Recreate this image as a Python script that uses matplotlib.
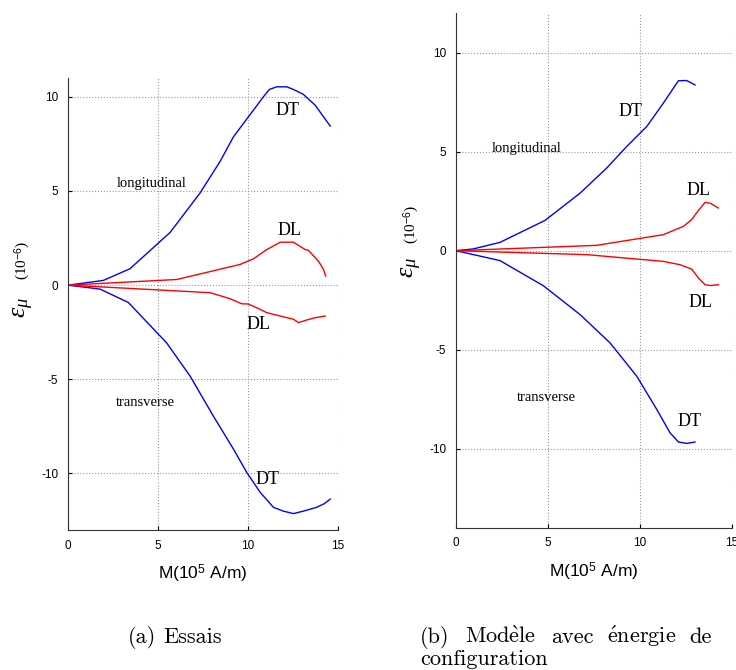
import matplotlib
matplotlib.use('Agg')
import matplotlib.pyplot as plt

plt.rcParams['font.family'] = ['Liberation Sans', 'DejaVu Sans']
plt.rcParams['axes.unicode_minus'] = False
plt.rcParams['mathtext.fontset'] = 'custom'
plt.rcParams['mathtext.rm'] = 'Liberation Sans'
plt.rcParams['mathtext.it'] = 'Liberation Serif:italic'

# (a) Essais
a_dt_up_m = [0, 1.96, 3.44, 5.67, 7.33, 8.44, 9.19, 10.02, 10.85, 11.18, 11.59, 12.15, 12.52, 13.07, 13.72, 14.56]
a_dt_up_e = [0, 0.25, 0.87, 2.8, 4.89, 6.56, 7.88, 8.94, 10.0, 10.39, 10.53, 10.53, 10.39, 10.13, 9.56, 8.45]
a_dl_up_m = [0, 6.04, 9.56, 10.3, 11.04, 11.78, 12.52, 13.17, 13.35, 13.91, 14.19, 14.31]
a_dl_up_e = [0, 0.30, 1.1, 1.4, 1.89, 2.28, 2.28, 1.89, 1.85, 1.27, 0.83, 0.48]
a_dl_lo_m = [0, 7.89, 9.0, 9.65, 10.0, 10.48, 11.04, 11.78, 12.52, 12.8, 13.26, 13.72, 14.28]
a_dl_lo_e = [0, -0.4, -0.72, -0.99, -1.0, -1.2, -1.46, -1.64, -1.81, -1.99, -1.85, -1.73, -1.64]
a_dt_lo_m = [0, 1.78, 3.35, 5.48, 6.78, 8.07, 9.19, 9.93, 10.67, 11.41, 11.96, 12.52, 13.07, 13.8, 14.24, 14.56]
a_dt_lo_e = [0, -0.21, -0.92, -3.07, -4.83, -6.95, -8.71, -9.95, -11.0, -11.8, -12.0, -12.13, -12.0, -11.8, -11.6, -11.36]

# (b) Modele avec energie de configuration
b_dt_up_m = [0, 0.94, 2.39, 4.84, 6.75, 8.2, 9.29, 10.38, 11.28, 12.1, 12.55, 13.0]
b_dt_up_e = [0, 0.09, 0.42, 1.53, 2.91, 4.18, 5.27, 6.28, 7.46, 8.59, 8.6, 8.38]
b_dl_up_m = [0, 7.65, 11.28, 12.37, 12.82, 13.19, 13.55, 13.83, 14.27]
b_dl_up_e = [0, 0.27, 0.81, 1.23, 1.57, 2.04, 2.44, 2.4, 2.16]
b_dl_lo_m = [0, 7.11, 11.28, 12.19, 12.82, 13.19, 13.55, 13.83, 14.27]
b_dl_lo_e = [0, -0.2, -0.54, -0.71, -0.93, -1.38, -1.72, -1.76, -1.72]
b_dt_lo_m = [0, 2.39, 4.75, 6.75, 8.38, 9.83, 10.92, 11.64, 12.1, 12.55, 13.0]
b_dt_lo_e = [0, -0.5, -1.77, -3.23, -4.66, -6.34, -8.02, -9.2, -9.67, -9.74, -9.67]

serif = ['Liberation Serif', 'DejaVu Serif']
capfont = ['cmr10', 'DejaVu Serif']

fig = plt.figure(figsize=(7.36, 6.70), dpi=100)
ax1 = fig.add_axes([0.0924, 0.209, 0.367, 0.6746])
ax2 = fig.add_axes([0.6196, 0.2124, 0.3746, 0.7678])


def style(ax, ylim, yticks):
    ax.set_xlim(0, 15)
    ax.set_ylim(*ylim)
    ax.set_xticks([0, 5, 10, 15])
    ax.set_yticks(yticks)
    ax.grid(True, linestyle=':', color='#999999', linewidth=0.8)
    ax.spines['top'].set_visible(False)
    ax.spines['right'].set_visible(False)
    ax.spines['left'].set_color('#333333')
    ax.spines['bottom'].set_color('#333333')
    ax.tick_params(direction='in', labelsize=8.5, length=3, pad=7)
    ax.set_xlabel(r'M(10$^5$ A/m)', fontsize=12.5, labelpad=8)


lw = 1.0
ax1.plot(a_dt_up_m, a_dt_up_e, color='blue', lw=lw)
ax1.plot(a_dt_lo_m, a_dt_lo_e, color='blue', lw=lw)
ax1.plot(a_dl_up_m, a_dl_up_e, color='red', lw=lw)
ax1.plot(a_dl_lo_m, a_dl_lo_e, color='red', lw=lw)
style(ax1, (-13, 11), [-10, -5, 0, 5, 10])

ax1.text(12.2, 9.3, 'DT', family=serif, fontsize=13, ha='center', va='center')
ax1.text(4.67, 5.4, 'longitudinal', family=serif, fontsize=10.5, ha='center', va='center')
ax1.text(12.3, 2.9, 'DL', family=serif, fontsize=13, ha='center', va='center')
ax1.text(10.57, -2.08, 'DL', family=serif, fontsize=13, ha='center', va='center')
ax1.text(4.3, -6.22, 'transverse', family=serif, fontsize=10.5, ha='center', va='center')
ax1.text(11.1, -10.3, 'DT', family=serif, fontsize=13, ha='center', va='center')
ax1.text(-0.163, 0.493, r'$\varepsilon_{\mu}$', transform=ax1.transAxes, rotation=90,
         fontsize=19, ha='center', va='center')
ax1.text(-0.167, 0.597, r'(10$^{-6}$)', transform=ax1.transAxes, rotation=90,
         family=serif, fontsize=11, ha='center', va='center')

ax2.plot(b_dt_up_m, b_dt_up_e, color='blue', lw=lw)
ax2.plot(b_dt_lo_m, b_dt_lo_e, color='blue', lw=lw)
ax2.plot(b_dl_up_m, b_dl_up_e, color='red', lw=lw)
ax2.plot(b_dl_lo_m, b_dl_lo_e, color='red', lw=lw)
style(ax2, (-14, 12), [-10, -5, 0, 5, 10])

ax2.text(9.47, 7.04, 'DT', family=serif, fontsize=13, ha='center', va='center')
ax2.text(3.85, 5.19, 'longitudinal', family=serif, fontsize=10.5, ha='center', va='center')
ax2.text(13.18, 3.05, 'DL', family=serif, fontsize=13, ha='center', va='center')
ax2.text(13.28, -2.6, 'DL', family=serif, fontsize=13, ha='center', va='center')
ax2.text(4.9, -7.44, 'transverse', family=serif, fontsize=10.5, ha='center', va='center')
ax2.text(12.73, -8.62, 'DT', family=serif, fontsize=13, ha='center', va='center')
ax2.text(-0.16, 0.505, r'$\varepsilon_{\mu}$', transform=ax2.transAxes, rotation=90,
         fontsize=19, ha='center', va='center')
ax2.text(-0.16, 0.590, r'(10$^{-6}$)', transform=ax2.transAxes, rotation=90,
         family=serif, fontsize=11, ha='center', va='center')

# sous-figures captions
fig.text(128 / 736, 1 - 643 / 670, '(a)', family=capfont, fontsize=16,
         ha='left', va='baseline')
fig.text(163 / 736, 1 - 643 / 670, 'Essais', family=capfont, fontsize=16,
         ha='left', va='baseline')
words = ['(b)', r'$\mathrm{Mod\grave{e}le}$', 'avec', r'$\mathrm{\acute{e}nergie}$', 'de']
xs = [420, 465, 551, 607, 689]
for w, x in zip(words, xs):
    fig.text(x / 736, 1 - 643 / 670, w, family=capfont, fontsize=16, ha='left',
             va='baseline', math_fontfamily='cm')
fig.text(420 / 736, 1 - 665 / 670, 'configuration', family=capfont, fontsize=16,
         ha='left', va='baseline')

fig.savefig('out.png', dpi=100)
